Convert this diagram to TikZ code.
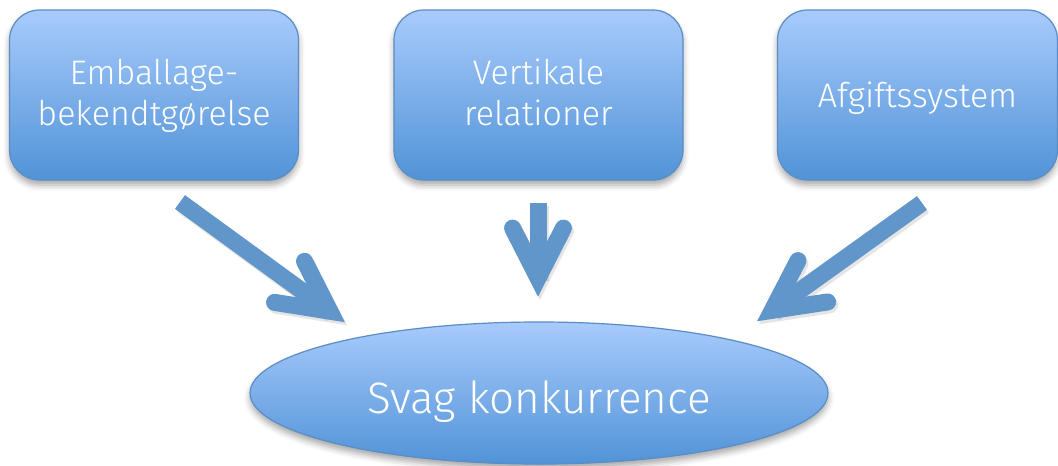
\documentclass[tikz,border=0pt]{standalone}
\usepackage{fontspec}
\setmainfont{Fira Sans}[UprightFont={* Light}]
\usetikzlibrary{calc,shadows.blur,shapes.geometric}

\definecolor{boxtop}{HTML}{A8CBFC}
\definecolor{boxbottom}{HTML}{5193D7}
\definecolor{boxedge}{HTML}{5A8DC6}
\definecolor{arrowblue}{HTML}{6096CA}

% lower a label without changing the box it occupies
\newcommand\lowered[2]{\raisebox{-#1}[\height][\depth]{#2}}

% block arrow: flat-ended shaft, mitred tip, round-capped barbs
\newcommand\blockarrow[2]{%
  \coordinate (#2v) at ($(#2)!20pt!(#1)$);
  \draw[arrowshadow, line cap=butt] (#1) -- (#2v);
  \draw[arrowshadow] ($(#2v)!56pt!27:(#1)$) -- (#2v) -- ($(#2v)!56pt!-27:(#1)$);
  \draw[arrowshaft] (#1) -- (#2v);
  \draw[arrowhead] ($(#2v)!56pt!27:(#1)$) -- (#2v) -- ($(#2v)!56pt!-27:(#1)$);
}

\begin{document}
\begin{tikzpicture}[x=1pt,y=-1pt,
  card/.style={rounded corners=30pt, draw=boxedge, line width=1.2pt,
    top color=boxtop, bottom color=boxbottom,
    minimum width=289pt, minimum height=170pt, inner sep=0pt,
    text=white, align=center, font=\fontsize{34}{41}\selectfont,
    blur shadow={shadow xshift=0pt, shadow yshift=-5pt,
      shadow blur radius=6pt, shadow opacity=35}},
  goal/.style={ellipse, draw=boxedge, line width=1.2pt,
    top color=boxtop, bottom color=boxbottom,
    minimum width=578pt, minimum height=142pt, inner sep=0pt,
    text=white, font=\fontsize{44}{52}\selectfont,
    blur shadow={shadow xshift=0pt, shadow yshift=-5pt,
      shadow blur radius=6pt, shadow opacity=35}},
  arrowshaft/.style={draw=arrowblue, line width=17pt, line cap=butt},
  arrowhead/.style={draw=arrowblue, line width=17pt, line cap=round,
    line join=miter},
  arrowshadow/.style={draw=black, opacity=0.10, line width=17pt,
    line cap=round, line join=miter, transform canvas={shift={(2pt,-3pt)}}},
]
\useasboundingbox (0,0) rectangle (1058,466);

\node[card] (pack) at (154,95) {\lowered{2pt}{\begin{tabular}{@{}c@{}}Emballage-\\bekendtgørelse\end{tabular}}};
\node[card] (vert) at (538.5,95) {\lowered{2pt}{\begin{tabular}{@{}c@{}}Vertikale\\relationer\end{tabular}}};
\node[card, minimum width=280pt] (tax) at (917.5,95) {\lowered{3pt}{Afgiftssystem}};
\node[goal] (weak) at (539,393) {\lowered{9pt}{Svag konkurrence}};

\coordinate (s1) at (180,202);
\coordinate (t1) at (346,323);
\coordinate (s2) at (538,203);
\coordinate (t2) at (538,298);
\coordinate (s3) at (922,203);
\coordinate (t3) at (756,322);

\blockarrow{s1}{t1}
\blockarrow{s2}{t2}
\blockarrow{s3}{t3}
\end{tikzpicture}
\end{document}
